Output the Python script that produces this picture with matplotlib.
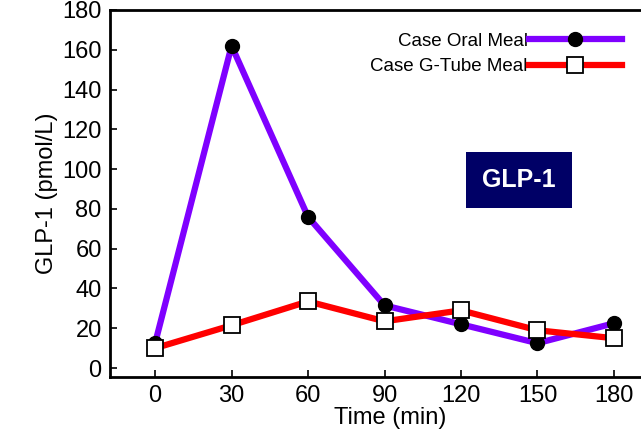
import numpy as np
import matplotlib.pyplot as plt

# Time points (min)
time = [0, 30, 60, 90, 120, 150, 180]

# GLP-1 (pmol/L)
oral_meal = [12.5, 162, 76, 31.5, 22, 12.5, 22.5]
gtube_meal = [10, 21.5, 33.5, 23.5, 29, 19, 15]

xticks = [0, 30, 60, 90, 120, 150, 180]
yticks = [0, 20, 40, 60, 80, 100, 120, 140, 160, 180]

plt.rcParams['font.family'] = ['Liberation Sans', 'DejaVu Sans']

fig = plt.figure(figsize=(6.41, 4.32), dpi=100)
ax = fig.add_axes([110 / 641, 1 - 377 / 432, 560 / 641, 367 / 432])

ax.plot(time, oral_meal, color='#7f00ff', linewidth=4.5, marker='o',
        markersize=10, markerfacecolor='black', markeredgecolor='black',
        label='Case Oral Meal', zorder=3)
ax.plot(time, gtube_meal, color='#ff0000', linewidth=4.5, marker='s',
        markersize=11, markerfacecolor='white', markeredgecolor='black',
        markeredgewidth=1.3, label='Case G-Tube Meal', zorder=4)

ax.set_xlim(-17.7, 202)
ax.set_ylim(-4.5, 179)
ax.set_xticks(xticks)
ax.set_yticks(yticks)
ax.tick_params(labelsize=17, direction='in', length=5, width=1.2)
ax.tick_params(axis='x', pad=6)
ax.tick_params(axis='y', pad=6)
for s in ax.spines.values():
    s.set_linewidth(2)

ax.set_xlabel('Time (min)', fontsize=17, labelpad=0)
ax.set_ylabel('GLP-1 (pmol/L)', fontsize=17, labelpad=3)

ax.legend(loc='upper right', bbox_to_anchor=(0.945, 0.985), frameon=False,
          markerfirst=False, fontsize=13.5, handlelength=5.0,
          labelspacing=0.45, handletextpad=0.05)

ax.text(519 / 641, 1 - 180 / 432, 'GLP-1', transform=fig.transFigure,
        ha='center', va='center', color='white', fontsize=18,
        fontweight='bold',
        bbox=dict(boxstyle='square,pad=0.65', facecolor='#000066',
                  edgecolor='none'))

fig.savefig('out.png', dpi=100)
